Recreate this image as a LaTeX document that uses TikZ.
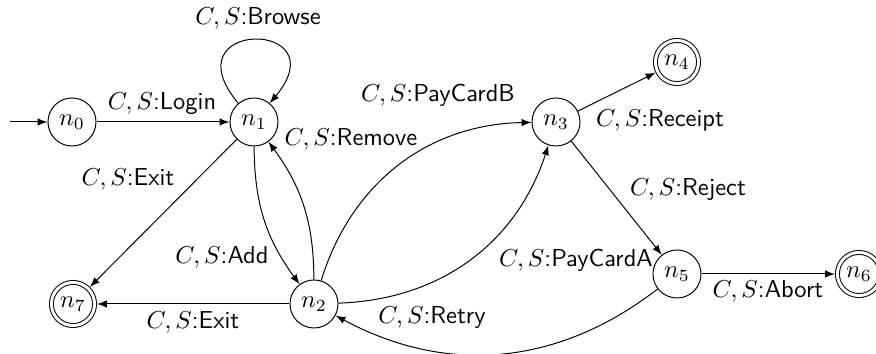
\documentclass[tikz,border=0pt]{standalone}
\usetikzlibrary{arrows}
\begin{document}
\begin{tikzpicture}[x=0.408pt,y=0.408pt, >=latex,
  state/.style={circle,draw,minimum size=19.6pt,inner sep=0pt},
  accept/.style={circle,draw,double,double distance=1.2pt,minimum size=17.6pt,inner sep=0pt,outer sep=1pt},
  lbl/.style={font=\sffamily,inner sep=0pt},
  tr/.style={->}]
\useasboundingbox (0,0) rectangle (876,354);
\node[state]  (n0) at (72,232)  {$n_0$};
\node[state]  (n1) at (254,232) {$n_1$};
\node[state]  (n2) at (314,50)  {$n_2$};
\node[state]  (n3) at (556,232) {$n_3$};
\node[accept] (n4) at (677,292) {$n_4$};
\node[state]  (n5) at (677,80)  {$n_5$};
\node[accept] (n6) at (859,80)  {$n_6$};
\node[accept] (n7) at (73,50)   {$n_7$};
\coordinate (start) at (10,232);

\draw[tr] (start) -- (n0);
\draw[tr] (n0) -- (n1);
\draw[tr] (n1) to[out=130,in=50,distance=45pt] (n1);
\draw[tr] (n1) -- (n7);
\draw[tr] (n1) to[bend right=18] (n2);
\draw[tr] (n2) to[bend right=18] (n1);
\draw[tr] (n2) to[bend left=36] (n3);
\draw[tr] (n2) to[bend right=35] (n3);
\draw[tr] (n2) -- (n7);
\draw[tr] (n3) -- (n4);
\draw[tr] (n3) -- (n5);
\draw[tr] (n5) -- (n6);
\draw[tr] (n5) to[bend left=33] (n2);

\node[lbl] (lLogin)    at (162,250) {$C,S$:Login};
\node[lbl] (lBrowse)   at (258,336) {$C,S$:Browse};
\node[lbl] (lExitA)    at (128,175) {$C,S$:Exit};
\node[lbl] (lAdd)      at (222,97)  {$C,S$:Add};
\node[lbl] (lRemove)   at (351,215) {$C,S$:Remove};
\node[lbl] (lPayB)     at (438,259) {$C,S$:PayCardB};
\node[lbl] (lReceipt)  at (660,234) {$C,S$:Receipt};
\node[lbl] (lReject)   at (688,164) {$C,S$:Reject};
\node[lbl] (lPayA)     at (576,94)  {$C,S$:PayCardA};
\node[lbl] (lAbort)    at (768,63)  {$C,S$:Abort};
\node[lbl] (lExitB)    at (193,32)  {$C,S$:Exit};
\node[lbl] (lRetry)    at (432,36)  {$C,S$:Retry};
\end{tikzpicture}
\end{document}
